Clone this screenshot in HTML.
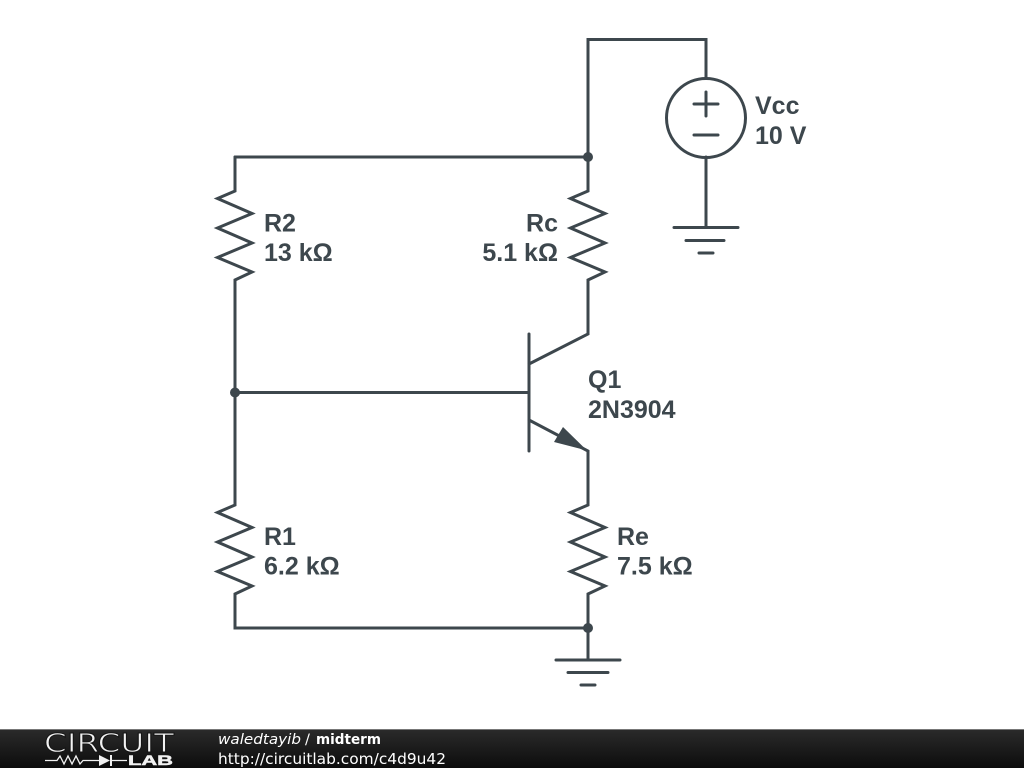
<!DOCTYPE html>
<html><head><meta charset="utf-8"><style>
html,body{margin:0;padding:0;background:#fff;width:1024px;height:768px;overflow:hidden}
svg{display:block}
</style></head><body>
<svg width="1024" height="768" viewBox="0 0 1024 768" xmlns="http://www.w3.org/2000/svg">
<defs><linearGradient id="g" x1="0" y1="0" x2="0" y2="1"><stop offset="0" stop-color="#2b2b2b"/><stop offset="1" stop-color="#0c0c0c"/></linearGradient></defs>
<g fill="none" stroke="#3d474d" stroke-width="3" stroke-linecap="round" stroke-linejoin="miter">
<path d="M706 78V39.500H588V191L570.500 198.500L605 213.500L570.500 228L605 243L570.500 257.500L605 272L588 280V334L529 364"/>
<path d="M235 157H588"/>
<path d="M235 157V191L217.500 198.500L252 213.500L217.500 228L252 243L217.500 257.500L252 272L235 280V505L217.500 512.500L252 527.500L217.500 542L252 557L217.500 571.500L252 586L235 594V628H588"/>
<path d="M235 392.500H529"/>
<path d="M529 334V451"/>
<path d="M529 420L588 451V505L570.500 512.500L605 527.500L570.500 542L605 557L570.500 571.500L605 586L588 594V660"/>
<circle cx="706" cy="118" r="39.500"/>
<path d="M706 157V227M694 104H718M706 92V116M694 135H718"/>
<path d="M674 227.500H738M686 240.500H724M699 253H713"/>
<path d="M556 660H620M568 672.500H608M581 685H595"/>
</g>
<path d="M587 450.500L554 442L563 427Z" fill="#3d474d"/>
<circle cx="588" cy="157" r="5" fill="#3d474d"/>
<circle cx="235" cy="392.500" r="5" fill="#3d474d"/>
<circle cx="588" cy="628" r="5" fill="#3d474d"/>
<g font-family="'Liberation Sans',sans-serif" font-weight="700" font-size="25" fill="#3d474d">
<text x="755" y="114">Vcc</text><text x="755" y="144">10 V</text>
<text x="264" y="231.500">R2</text><text x="264" y="261">13 kΩ</text>
<text x="558" y="231.500" text-anchor="end">Rc</text><text x="558" y="261" text-anchor="end">5.1 kΩ</text>
<text x="588" y="388">Q1</text><text x="588" y="418">2N3904</text>
<text x="264" y="545">R1</text><text x="264" y="574.500">6.2 kΩ</text>
<text x="617" y="545">Re</text><text x="617" y="574.500">7.5 kΩ</text>
</g>
<rect x="0" y="729" width="1024" height="39" fill="url(#g)"/>
<rect x="0" y="729" width="1024" height="1" fill="#777"/>
<text x="44" y="752" font-family="'DejaVu Sans',sans-serif" font-size="26" fill="#f2f2f2" stroke="#151515" stroke-width="0.9" textLength="130" lengthAdjust="spacingAndGlyphs">CIRCUIT</text>
<g fill="none" stroke="#f2f2f2" stroke-width="1.300">
<path d="M45 760.500H57L60 756L64 764L68 756L72 764L76 756L80 764L83 760.500H99M112 760.500H127"/>
<path d="M111 755V766" stroke-width="2"/>
</g>
<path d="M99 755L110 760.500L99 766Z" fill="#f2f2f2"/>
<text x="128" y="765" font-family="'Liberation Sans',sans-serif" font-weight="700" font-size="14" fill="#f2f2f2" stroke="#f2f2f2" stroke-width="0.5" textLength="45" lengthAdjust="spacingAndGlyphs">LAB</text>
<g font-family="'DejaVu Sans',sans-serif" font-size="14.600" fill="#fff">
<text x="218" y="744" font-style="italic" textLength="83" lengthAdjust="spacingAndGlyphs">waledtayib</text>
<text x="305" y="744">/</text>
<text x="316" y="744" font-weight="700" textLength="65" lengthAdjust="spacingAndGlyphs">midterm</text>
</g>
<text x="218" y="764" font-family="'DejaVu Sans',sans-serif" font-size="15.400" fill="#fff">http://circuitlab.com/c4d9u42</text>
</svg>
</body></html>
